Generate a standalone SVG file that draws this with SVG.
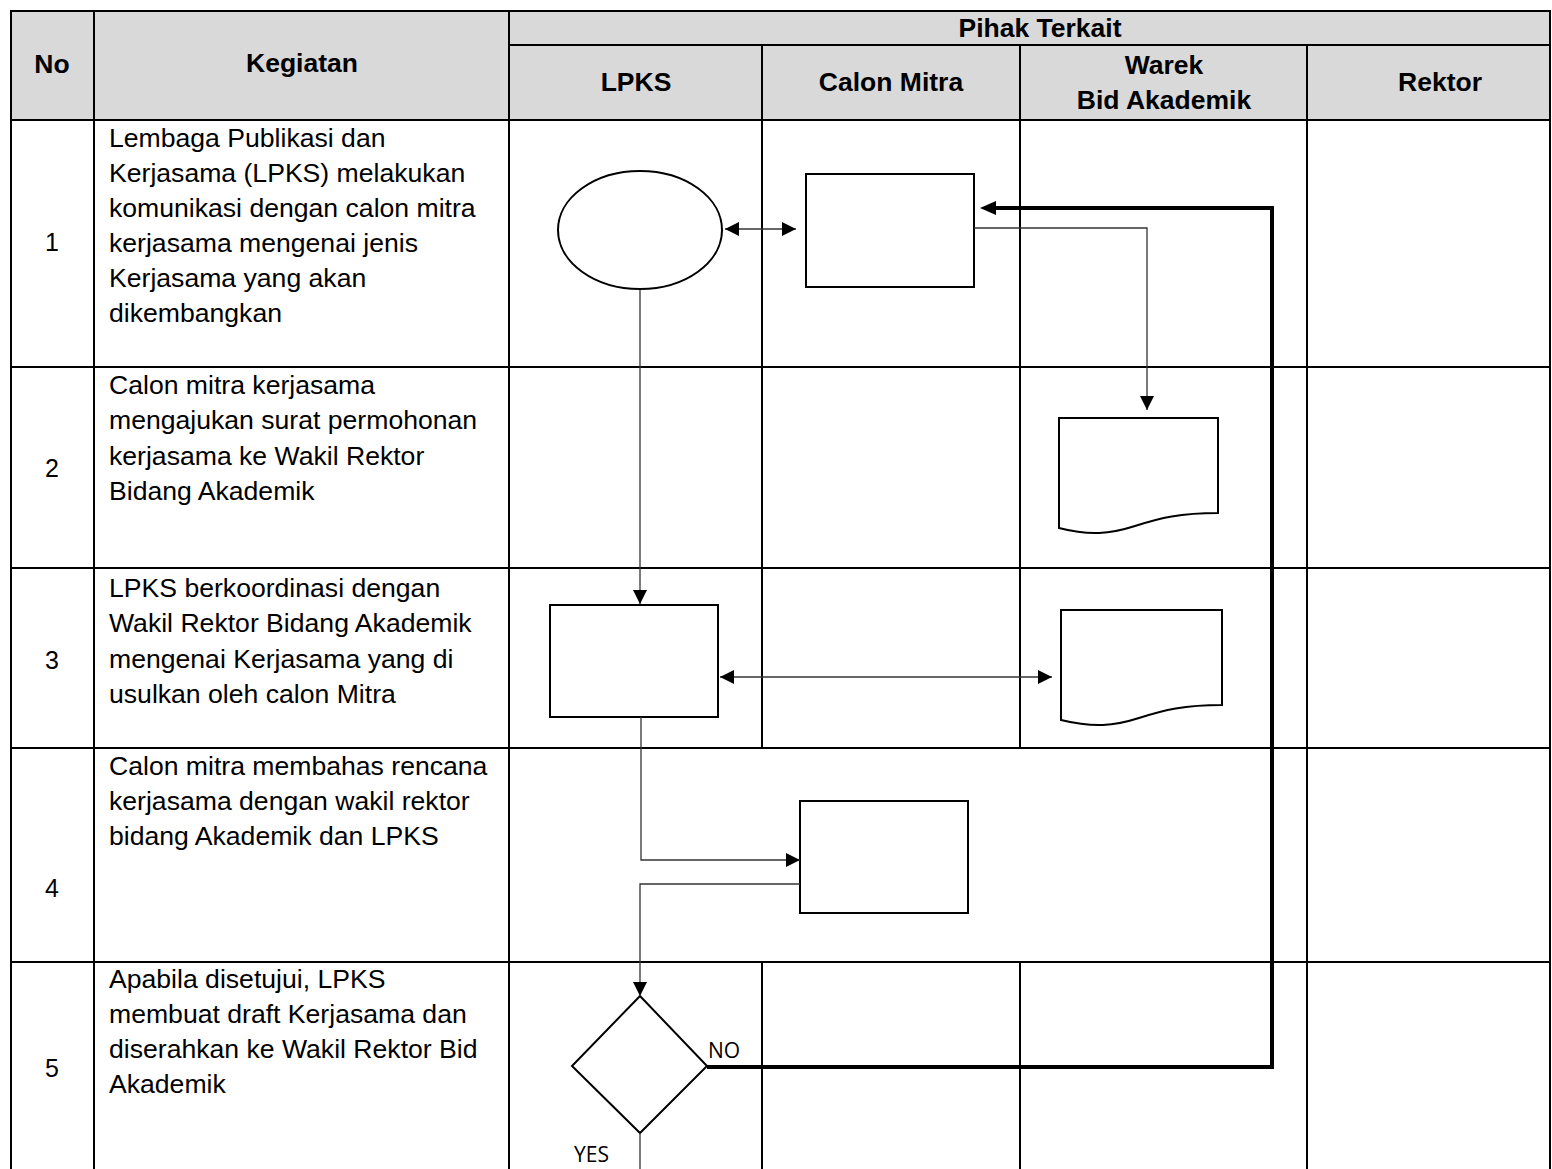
<svg xmlns="http://www.w3.org/2000/svg" width="1552" height="1169" viewBox="0 0 1552 1169">
<style>
.grid{stroke:#000;stroke-width:2;fill:none}
.hdr{font-family:"Liberation Sans",Arial,sans-serif;font-weight:bold;font-size:26.5px;fill:#000;text-anchor:middle}
.body{font-family:"Liberation Sans",Arial,sans-serif;font-size:26.6px;fill:#000}
.num{font-family:"Liberation Sans",Arial,sans-serif;font-size:25px;fill:#000;text-anchor:middle}
.shape{fill:#fff;stroke:#000;stroke-width:2}
.thin{stroke:#333;stroke-width:1.3;fill:none}
.thick{stroke:#000;stroke-width:4;fill:none}
.lbl{font-family:"Open Sans","Liberation Sans",sans-serif;font-size:21px;fill:#000}
</style>
<defs>
<marker id="ah" viewBox="0 0 10 10" refX="10" refY="5" markerWidth="14" markerHeight="14" markerUnits="userSpaceOnUse" orient="auto-start-reverse"><path d="M0,0 L10,5 L0,10 z" fill="#000"/></marker>
</defs>
<rect x="0" y="0" width="1552" height="1169" fill="#fff"/>
<g id="table">
<rect x="11" y="11" width="1539" height="109" fill="#d9d9d9"/>
<path class="grid" d="M11,1169 V11 H1550 V1169"/>
<path class="grid" d="M94,11 V1169 M509,11 V1169 M509,45 H1550 M762,45 V748 M1020,45 V748 M762,962 V1169 M1020,962 V1169 M1307,45 V1169"/>
<path class="grid" d="M11,120 H1550" stroke-width="3"/>
<path class="grid" d="M11,367 H1550 M11,568 H1550 M11,748 H1550 M11,962 H1550"/>
<text class="hdr" x="52" y="73">No</text>
<text class="hdr" x="302" y="72">Kegiatan</text>
<text class="hdr" x="1040" y="37">Pihak Terkait</text>
<text class="hdr" x="636" y="91">LPKS</text>
<text class="hdr" x="891" y="91">Calon Mitra</text>
<text class="hdr" x="1164" y="74">Warek</text>
<text class="hdr" x="1164" y="109">Bid Akademik</text>
<text class="hdr" x="1440" y="91">Rektor</text>
<text class="num" x="52" y="251">1</text>
<text class="num" x="52" y="477">2</text>
<text class="num" x="52" y="669">3</text>
<text class="num" x="52" y="897">4</text>
<text class="num" x="52" y="1077">5</text>
<text class="body" x="109" y="147">Lembaga Publikasi dan</text>
<text class="body" x="109" y="182">Kerjasama (LPKS) melakukan</text>
<text class="body" x="109" y="217">komunikasi dengan calon mitra</text>
<text class="body" x="109" y="252">kerjasama mengenai jenis</text>
<text class="body" x="109" y="287">Kerjasama yang akan</text>
<text class="body" x="109" y="322">dikembangkan</text>
<text class="body" x="109" y="394">Calon mitra kerjasama</text>
<text class="body" x="109" y="429">mengajukan surat permohonan</text>
<text class="body" x="109" y="465">kerjasama ke Wakil Rektor</text>
<text class="body" x="109" y="500">Bidang Akademik</text>
<text class="body" x="109" y="597">LPKS berkoordinasi dengan</text>
<text class="body" x="109" y="632">Wakil Rektor Bidang Akademik</text>
<text class="body" x="109" y="668">mengenai Kerjasama yang di</text>
<text class="body" x="109" y="703">usulkan oleh calon Mitra</text>
<text class="body" x="109" y="775">Calon mitra membahas rencana</text>
<text class="body" x="109" y="810">kerjasama dengan wakil rektor</text>
<text class="body" x="109" y="845">bidang Akademik dan LPKS</text>
<text class="body" x="109" y="988">Apabila disetujui, LPKS</text>
<text class="body" x="109" y="1023">membuat draft Kerjasama dan</text>
<text class="body" x="109" y="1058">diserahkan ke Wakil Rektor Bid</text>
<text class="body" x="109" y="1093">Akademik</text>
</g>
<g id="n1"><ellipse class="shape" cx="640" cy="230" rx="82" ry="59"/></g>
<g id="n2"><rect class="shape" x="806" y="174" width="168" height="113"/></g>
<g id="n3"><path class="shape" d="M1059,418 H1218 V513 C1180,513 1160,518 1135,526 C1110,534 1090,536 1059,528 Z"/></g>
<g id="n4"><rect class="shape" x="550" y="605" width="168" height="112"/></g>
<g id="n5"><path class="shape" d="M1061,610 H1222 V705 C1184,705 1164,710 1139,718 C1114,726 1094,728 1061,720 Z"/></g>
<g id="n6"><rect class="shape" x="800" y="801" width="168" height="112"/></g>
<g id="n7"><path class="shape" d="M640,996 L707,1066 L640,1133 L572,1066 Z" stroke-width="1.5"/></g>
<text class="lbl" x="708" y="1058">NO</text>
<text class="lbl" x="574" y="1162">YES</text>
<g id="connectors">
<path class="thin" d="M725,229 H796" marker-start="url(#ah)" marker-end="url(#ah)"/>
<path class="thin" d="M974,228 H1147 V410" marker-end="url(#ah)"/>
<path class="thin" d="M640,290 V604" marker-end="url(#ah)"/>
<path class="thin" d="M720,677 H1052" marker-start="url(#ah)" marker-end="url(#ah)"/>
<path class="thin" d="M641,717 V860 H800" marker-end="url(#ah)"/>
<path class="thin" d="M800,884 H640 V996" marker-end="url(#ah)"/>
<path class="thin" d="M640,1133 V1169"/>
<path class="thick" d="M707,1067 H1272 V208 H996"/>
<path d="M980,208 L996,201 L996,215 Z" fill="#000"/>
</g>
</svg>
